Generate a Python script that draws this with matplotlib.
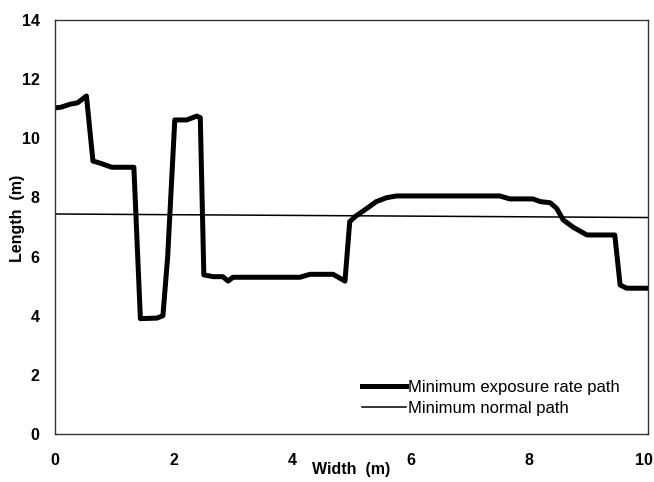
import matplotlib
matplotlib.use("Agg")
import matplotlib.pyplot as plt
import matplotlib.transforms as mtransforms

plt.rcParams['font.family'] = ['Liberation Sans', 'DejaVu Sans']

# minimum exposure rate path
path_x = [0, 0.1, 0.25, 0.38, 0.53, 0.64, 0.76, 0.9, 0.96, 1.33,
          1.44, 1.72, 1.82, 1.9, 2.02, 2.22, 2.39, 2.45, 2.51, 2.67,
          2.83, 2.92, 3.0, 4.13, 4.30, 4.69, 4.89, 4.97, 5.06, 5.26,
          5.42, 5.59, 5.76, 7.50, 7.67, 8.06, 8.18, 8.35, 8.46, 8.57,
          8.74, 8.97, 9.44, 9.53, 9.64, 10.0]
path_y = [11.03, 11.05, 11.15, 11.2, 11.43, 9.23, 9.16, 9.06, 9.02, 9.02,
          3.9, 3.92, 4.0, 6.0, 10.62, 10.62, 10.75, 10.7, 5.38, 5.32,
          5.32, 5.17, 5.3, 5.3, 5.40, 5.40, 5.17, 7.18, 7.35, 7.63,
          7.86, 7.99, 8.05, 8.05, 7.95, 7.95, 7.86, 7.82, 7.63, 7.24,
          6.99, 6.73, 6.73, 5.04, 4.93, 4.93]

# minimum normal path
normal_x = [0, 10]
normal_y = [7.44, 7.32]

xticks = [0, 2, 4, 6, 8, 10]
yticks = [0, 2, 4, 6, 8, 10, 12, 14]

fig = plt.figure(figsize=(6.54, 4.82), dpi=100)
ax = fig.add_axes([0.0841, 0.0996, 0.9067, 0.8589])

ax.plot(path_x, path_y, color='black', lw=3.6, solid_joinstyle='round',
        label='Minimum exposure rate path')
ax.plot(normal_x, normal_y, color='black', lw=1.1,
        label='Minimum normal path')

ax.set_xlim(0, 10)
ax.set_ylim(0, 14)
ax.set_xticks(xticks)
ax.set_yticks(yticks)
for lab in ax.get_xticklabels() + ax.get_yticklabels():
    lab.set_fontweight('bold')
    lab.set_fontsize(11.5)
ax.tick_params(axis='x', length=0, pad=14)
ax.tick_params(axis='y', length=0, pad=11)
# keep the last x label inside the figure
last = ax.get_xticklabels()[-1]
last.set_transform(last.get_transform() +
                   mtransforms.ScaledTranslation(-3 / 72, 0, fig.dpi_scale_trans))

for s in ax.spines.values():
    s.set_linewidth(1.0)
    s.set_color('#333333')

ax.set_xlabel('Width  (m)', fontsize=11.5, fontweight='bold')
ax.xaxis.set_label_coords(0.5, -0.068)
ax.set_ylabel('Length  (m)', fontsize=11.5, fontweight='bold')
ax.yaxis.set_label_coords(-0.05, 0.52)

ax.legend(loc='upper left', bbox_to_anchor=(0.518, 0.13), frameon=False,
          borderpad=0, borderaxespad=0, handlelength=2.65, handletextpad=0.12,
          labelspacing=0.34, fontsize=12)

fig.savefig('out.png', dpi=100)
